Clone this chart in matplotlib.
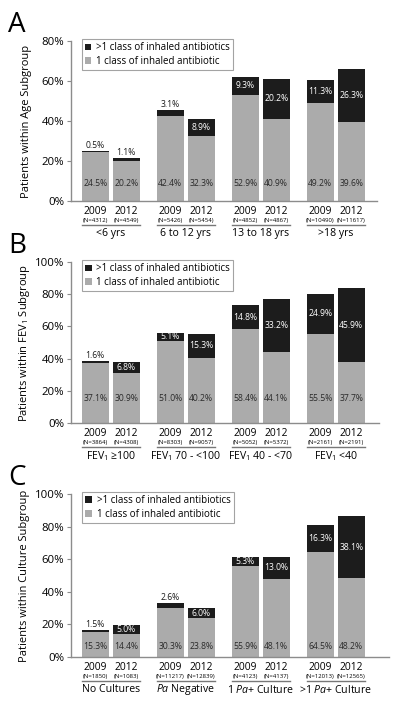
import matplotlib
matplotlib.use("Agg")
import matplotlib.pyplot as plt
import matplotlib.transforms as mtransforms
from matplotlib.patches import Patch
import numpy as np

plt.rcParams['font.family'] = ['Open Sans', 'DejaVu Sans']
plt.rcParams['mathtext.fontset'] = 'custom'
plt.rcParams['mathtext.rm'] = 'Open Sans'
plt.rcParams['mathtext.it'] = 'Open Sans:italic'
plt.rcParams['mathtext.default'] = 'regular'

GRAY = '#ababab'
BLACK = '#1c1c1c'
SPINE = '#8c8c8c'

years = ['2009', '2012']

# panel A: age
age_groups = ['<6 yrs', '6 to 12 yrs', '13 to 18 yrs', '>18 yrs']
age_one = [24.5, 20.2, 42.4, 32.3, 52.9, 40.9, 49.2, 39.6]
age_multi = [0.5, 1.1, 3.1, 8.9, 9.3, 20.2, 11.3, 26.3]
age_n = [4312, 4549, 5426, 5454, 4852, 4867, 10490, 11617]

# panel B: FEV1
fev_groups = ['FEV$_1$ \u2265100', 'FEV$_1$ 70 - <100', 'FEV$_1$ 40 - <70', 'FEV$_1$ <40']
fev_one = [37.1, 30.9, 51.0, 40.2, 58.4, 44.1, 55.5, 37.7]
fev_multi = [1.6, 6.8, 5.1, 15.3, 14.8, 33.2, 24.9, 45.9]
fev_n = [3864, 4308, 8303, 9057, 5052, 5372, 2161, 2191]

# panel C: culture
cult_groups = ['No Cultures', '$\\it{Pa}$ Negative', '1 $\\it{Pa}$+ Culture', '>1 $\\it{Pa}$+ Culture']
cult_one = [15.3, 14.4, 30.3, 23.8, 55.9, 48.1, 64.5, 48.2]
cult_multi = [1.5, 5.0, 2.6, 6.0, 5.3, 13.0, 16.3, 38.1]
cult_n = [1850, 1083, 11217, 12839, 4123, 4137, 12013, 12565]

panels = [
    dict(letter='A', groups=age_groups, one=age_one, multi=age_multi, n=age_n,
         ylabel='Patients within Age Subgroup', ymax=80, label_y=9.0,
         rect=[0.1775, 0.7161, 0.765, 0.226]),
    dict(letter='B', groups=fev_groups, one=fev_one, multi=fev_multi, n=fev_n,
         ylabel='Patients within FEV$_1$ Subgroup', ymax=100, label_y=15.5,
         rect=[0.1775, 0.4025, 0.77, 0.2274]),
    dict(letter='C', groups=cult_groups, one=cult_one, multi=cult_multi, n=cult_n,
         ylabel='Patients within Culture Subgroup', ymax=100, label_y=6.7,
         rect=[0.1775, 0.0720, 0.795, 0.2303]),
]

fig = plt.figure(figsize=(4.0, 7.08), dpi=100)

off = 0.207
width = 0.36

for p in panels:
    ax = fig.add_axes(p['rect'])
    centers = np.arange(len(p['groups']))
    xs = np.ravel(np.column_stack([centers - off, centers + off]))
    one = np.array(p['one'])
    multi = np.array(p['multi'])

    ax.bar(xs, one, width=width, color=GRAY, linewidth=0)
    ax.bar(xs, multi, width=width, bottom=one, color=BLACK, linewidth=0)

    for x, a, b in zip(xs, one, multi):
        ax.text(x, p['label_y'], f'{a:.1f}%', ha='center', va='center',
                fontsize=6.2, color='#2a2a2a')
        if b < 4:
            ax.text(x, a + b + 0.6, f'{b:.1f}%', ha='center', va='bottom',
                    fontsize=6.2, color='#1a1a1a')
        else:
            ax.text(x, a + b / 2, f'{b:.1f}%', ha='center', va='center',
                    fontsize=6.2, color='white')

    ax.set_xlim(-0.53, len(p['groups']) - 1 + 0.55 + (p['rect'][2] - 0.765) * 400 / 75)
    ax.set_ylim(0, p['ymax'])
    ax.set_yticks(np.arange(0, p['ymax'] + 1, 20))
    ax.set_yticklabels([f'{v}%' for v in np.arange(0, p['ymax'] + 1, 20)], fontsize=8.2)
    ax.set_xticks([])
    for s in ['top', 'right']:
        ax.spines[s].set_visible(False)
    for s in ['left', 'bottom']:
        ax.spines[s].set_color(SPINE)
        ax.spines[s].set_linewidth(1.0)
    ax.tick_params(axis='y', length=3, width=0.8, color=SPINE, pad=2)
    ax.set_ylabel(p['ylabel'], fontsize=8)
    ax.yaxis.set_label_coords(-0.128, 0.5)

    # year / N labels below the bars
    trans = mtransforms.blended_transform_factory(ax.transData, ax.transAxes)
    for i, x in enumerate(xs):
        ax.annotate(years[i % 2], (x, 0), xycoords=trans, xytext=(0, -7.4),
                    textcoords='offset points', ha='center', va='center', fontsize=7.4)
        ax.annotate(f'(N={p["n"][i]})', (x, 0), xycoords=trans, xytext=(0, -14.0),
                    textcoords='offset points', ha='center', va='center', fontsize=4.3)
    line_trans = mtransforms.offset_copy(trans, fig=fig, y=-17.4, units='points')
    for c, g in zip(centers, p['groups']):
        ax.plot([c - off - width / 2, c + off + width / 2], [0, 0], color='#777777',
                lw=1.0, transform=line_trans, clip_on=False)
        ax.annotate(g, (c, 0), xycoords=trans, xytext=(0, -23.5),
                    textcoords='offset points', ha='center', va='center', fontsize=7.6)

    handles = [Patch(facecolor=BLACK, edgecolor='none'), Patch(facecolor=GRAY, edgecolor='none')]
    leg = ax.legend(handles, ['>1 class of inhaled antibiotics', '1 class of inhaled antibiotic'],
                    loc='upper left', bbox_to_anchor=(0.035, 1.01), fontsize=7,
                    frameon=True, fancybox=False, handlelength=0.7, handleheight=0.7,
                    handletextpad=0.5, borderpad=0.3, labelspacing=0.25,
                    borderaxespad=0)
    leg.get_frame().set_edgecolor(SPINE)
    leg.get_frame().set_linewidth(0.8)

    top_px = (p['rect'][1] + p['rect'][3]) * 708
    fig.text(0.02, (top_px + 30) / 708, p['letter'], fontsize=20,
             ha='left', va='top')

fig.savefig('out.png', dpi=100)
